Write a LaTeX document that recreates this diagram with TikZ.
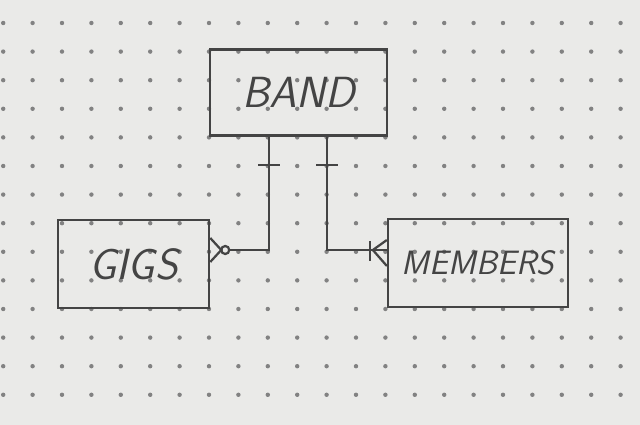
\documentclass[tikz,border=0pt]{standalone}
\usetikzlibrary{calc}
\definecolor{paper}{RGB}{234,234,232}
\definecolor{pen}{RGB}{68,68,68}
\definecolor{dotc}{RGB}{130,130,130}
\tikzset{entity/.style={draw=pen, line width=1.6pt, text=pen,
  font=\sffamily\slshape\fontsize{31}{31}\selectfont, minimum height=2.15cm}}

\begin{document}
\begin{tikzpicture}[x=0.025cm, y=-0.025cm, line width=1.6pt, color=pen]
 \fill[paper] (0,0) rectangle (640,425); %紙
 \foreach \i in {0,...,21} \foreach \j in {0,...,13}
   \fill[dotc] (3.2+29.4*\i, 23+28.6*\j) circle[radius=2.2]; %点
 \node[entity, minimum width=4.43cm] (band) at (298.5,92.5) {BAND};
 \node[entity, minimum width=3.78cm, minimum height=2.2cm] (gigs) at (133.5,264) {GIGS};
 \node[entity, minimum width=4.5cm, minimum height=2.2cm,
   font=\sffamily\slshape\fontsize{24}{24}\selectfont] (members) at (478,263) {MEMBERS};
 \coordinate (bl) at ($(band.south)+(-29.5,0)$); %左の線
 \coordinate (br) at ($(band.south)+(28.5,0)$); %右の線
 \coordinate (gfoot) at ($(gigs.east)+(0,-14)$);
 \coordinate (mfoot) at ($(members.west)+(0,-13)$);
 \draw (bl) |- ($(gfoot)+(19,0)$);
 \draw (br) |- (mfoot);
 \draw ($(bl)+(-11,28)$) -- ++(22,0); %1
 \draw ($(br)+(-11,28)$) -- ++(22,0); %1
 \draw ($(gfoot)+(15,0)$) circle[radius=4]; %0
 \draw ($(gfoot)+(0,-12)$) -- ($(gfoot)+(11,0)$) -- ($(gfoot)+(0,12)$); %多
 \draw ($(mfoot)+(-17,-9)$) -- ++(0,20); %1
 \draw ($(mfoot)+(0,-10)$) -- ($(mfoot)+(-14,0)$) -- ($(mfoot)+(0,16)$); %多
\end{tikzpicture}
\end{document}
